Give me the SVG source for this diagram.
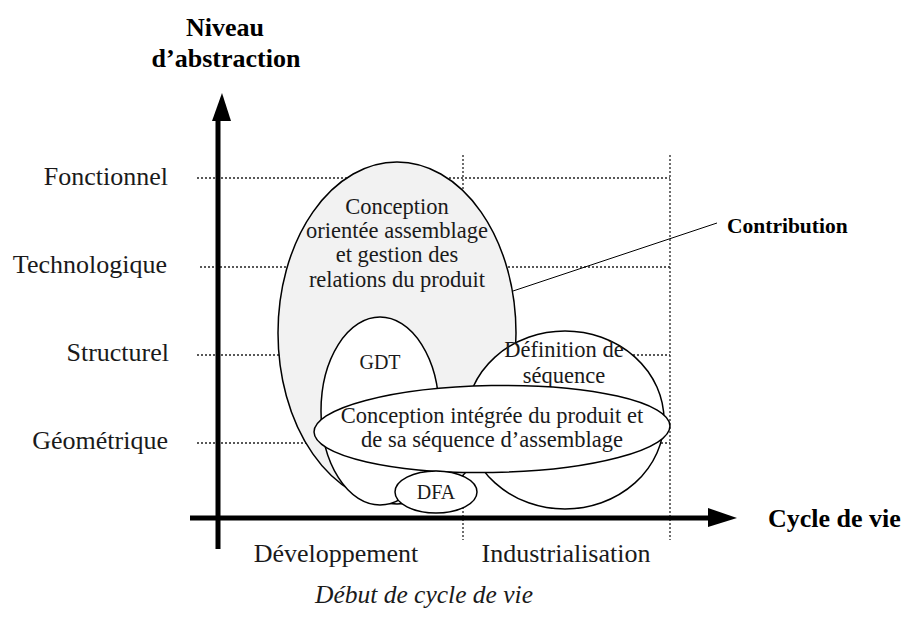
<svg xmlns="http://www.w3.org/2000/svg" width="903" height="617" viewBox="0 0 903 617">
<style>
.t{font-family:"Liberation Serif","Times New Roman",serif;font-size:26px;fill:#1a1a1a}
.i{font-family:"Liberation Serif","Times New Roman",serif;font-size:22.5px;fill:#1a1a1a;text-anchor:middle}
.s{font-size:20px}
.b{font-family:"Liberation Serif","Times New Roman",serif;font-size:26px;font-weight:bold;fill:#000}
.c{text-anchor:middle}
.grid{stroke:#222;stroke-width:1.3;stroke-dasharray:2,2;fill:none}
.e{stroke:#000;stroke-width:1.5;fill:#fff}
</style>
<g id="grid">
<line class="grid" x1="197" y1="178" x2="670" y2="178"/>
<line class="grid" x1="200" y1="267" x2="670" y2="267"/>
<line class="grid" x1="197" y1="355" x2="670" y2="355"/>
<line class="grid" x1="197" y1="443" x2="670" y2="443"/>
<line class="grid" x1="463" y1="155" x2="463" y2="540"/>
<line class="grid" x1="670" y1="155" x2="670" y2="540"/>
</g>
<g id="axes">
<line x1="218" y1="549" x2="218" y2="120" stroke="#000" stroke-width="5"/>
<path d="M212,121 L222,93 L231,121 Z" fill="#000"/>
<line x1="190" y1="518" x2="710" y2="518" stroke="#000" stroke-width="5"/>
<path d="M708,508 L737,518 L708,527 Z" fill="#000"/>
</g>
<g id="axis-labels">
<text class="b c" x="225" y="36">Niveau</text>
<text class="b c" x="226" y="67">d’abstraction</text>
<text class="b" x="768" y="527">Cycle de vie</text>
<text class="t" x="168" y="185" text-anchor="end">Fonctionnel</text>
<text class="t" x="167" y="273" text-anchor="end">Technologique</text>
<text class="t" x="169" y="361" text-anchor="end">Structurel</text>
<text class="t" x="168" y="449" text-anchor="end">Géométrique</text>
<text class="t c" x="336" y="562">Développement</text>
<text class="t c" x="566" y="562">Industrialisation</text>
<text class="t c" x="424" y="603" style="font-style:italic;font-size:25.5px">Début de cycle de vie</text>
</g>
<g id="connectors">
<line x1="513" y1="291" x2="717" y2="223" stroke="#000" stroke-width="1"/>
</g>
<g id="node-conception-orientee">
<ellipse cx="397" cy="333" rx="119" ry="171" stroke="#000" stroke-width="1.5" fill="#f2f2f2"/>
<text class="i" x="397" y="214">Conception</text>
<text class="i" x="397" y="238">orientée assemblage</text>
<text class="i" x="397" y="262">et gestion des</text>
<text class="i" x="397" y="287">relations du produit</text>
</g>
<g id="node-gdt">
<ellipse class="e" cx="380" cy="411" rx="59" ry="94"/>
<text class="i s" x="380" y="369">GDT</text>
</g>
<g id="node-definition">
<ellipse class="e" cx="565" cy="420" rx="99" ry="89"/>
<text class="i" x="564" y="357">Définition de</text>
<text class="i" x="564" y="383">séquence</text>
</g>
<g id="node-integree">
<ellipse class="e" cx="492" cy="429" rx="178" ry="43.5" transform="rotate(-1 492 429)"/>
<text class="i" x="492" y="423">Conception intégrée du produit et</text>
<text class="i" x="492" y="447">de sa séquence d’assemblage</text>
</g>
<g id="node-dfa">
<ellipse class="e" cx="436" cy="492" rx="41" ry="21"/>
<text class="i s" x="436" y="499">DFA</text>
</g>
<g id="label-contribution">
<text class="b" x="727" y="233" style="font-size:21.5px">Contribution</text>
</g>
</svg>
